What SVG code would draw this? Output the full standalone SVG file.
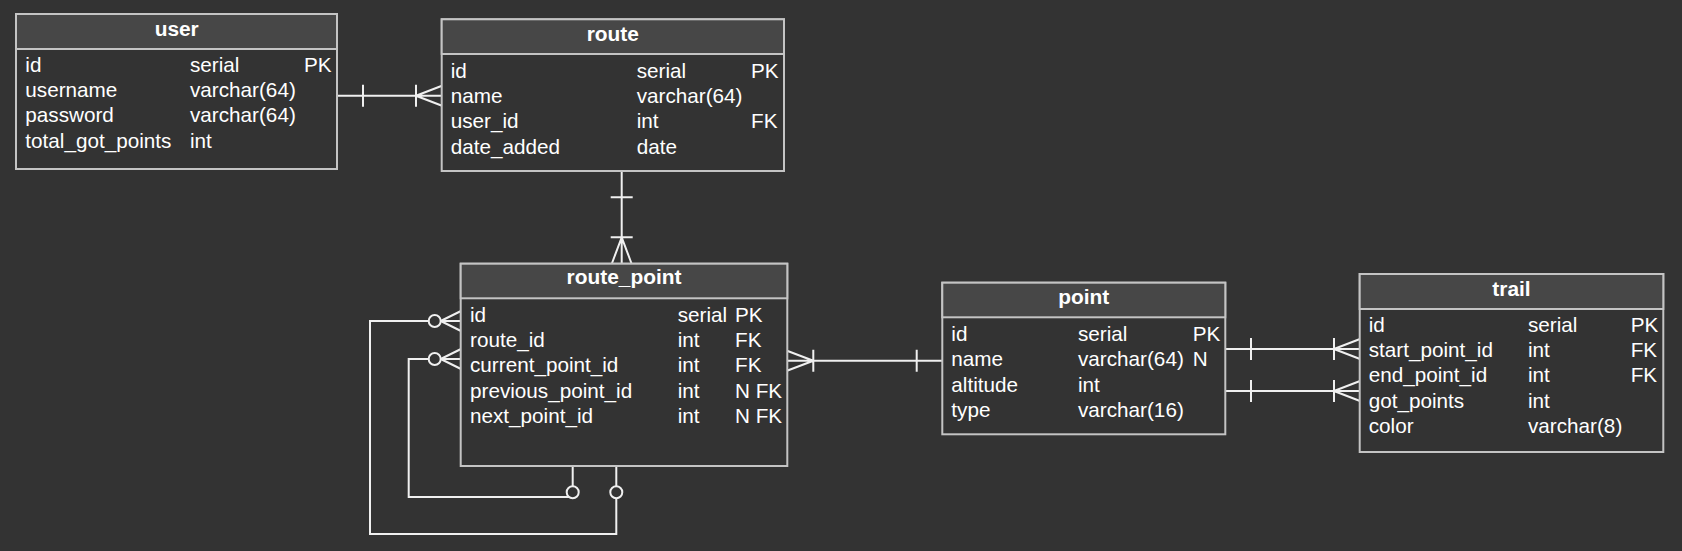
<svg xmlns="http://www.w3.org/2000/svg" width="1682" height="551" viewBox="0 0 1682 551">
<style>
.bg{fill:#333333}
.box{fill:#333333;stroke:#c4c4c4;stroke-width:2}
.hdr{fill:#474747;stroke:#c4c4c4;stroke-width:2}
.t{font-family:"Liberation Sans",Arial,sans-serif;font-size:20.7px;fill:#ffffff}
.h{font-family:"Liberation Sans",Arial,sans-serif;font-size:20.9px;font-weight:bold;fill:#ffffff;text-anchor:middle}
.c{fill:none;stroke:#f0f0f0;stroke-width:2}
.o{fill:#333333;stroke:#f0f0f0;stroke-width:2}
</style>
<rect class="bg" x="0" y="0" width="1682" height="551"/>
<g id="connectors">
  <!-- user - route -->
  <path class="c" d="M337 95.7H442M363 84.7V106.7M416 84.7V106.7M416 95.7L442 85.7M416 95.7L442 105.7"/>
  <!-- route - route_point -->
  <path class="c" d="M621.7 171V264M610.7 197.3H632.7M610.7 237.3H632.7M621.7 237.3L611.7 264M621.7 237.3L631.7 264"/>
  <!-- route_point - point -->
  <path class="c" d="M787 360.7H942M813.3 349.7V371.7M916.7 349.7V371.7M813.3 360.7L787 350.7M813.3 360.7L787 370.7"/>
  <!-- point - trail -->
  <path class="c" d="M1225 349H1360M1251 338V360M1334 338V360M1334 349L1360 339M1334 349L1360 359"/>
  <path class="c" d="M1225 391H1360M1251 380V402M1334 380V402M1334 391L1360 381M1334 391L1360 401"/>
  <!-- self loops -->
  <path class="c" d="M616.3 466V534H370V321H461M440.7 321L461 311M440.7 321L461 331"/>
  <circle class="o" cx="434.7" cy="321" r="6"/>
  <circle class="o" cx="616.3" cy="492.3" r="6"/>
  <path class="c" d="M572.7 466V497H408.7V359H461M440.7 359L461 349M440.7 359L461 369"/>
  <circle class="o" cx="434.7" cy="359" r="6"/>
  <circle class="o" cx="572.7" cy="492.3" r="6"/>
</g>
<g id="user">
  <rect class="box" x="16" y="14" width="321" height="155"/>
  <rect class="hdr" x="16" y="14" width="321" height="35"/>
  <text class="h" x="176.7" y="35.7">user</text>
  <text class="t" x="25.3" y="71.7">id</text><text class="t" x="190" y="71.7">serial</text><text class="t" x="304" y="71.7">PK</text>
  <text class="t" x="25.3" y="97">username</text><text class="t" x="190" y="97">varchar(64)</text>
  <text class="t" x="25.3" y="122.3">password</text><text class="t" x="190" y="122.3">varchar(64)</text>
  <text class="t" x="25.3" y="147.7">total_got_points</text><text class="t" x="190" y="147.7">int</text>
</g>
<g id="route">
  <rect class="box" x="441.7" y="19.3" width="342.3" height="151.7"/>
  <rect class="hdr" x="441.7" y="19.3" width="342.3" height="34.7"/>
  <text class="h" x="612.8" y="40.7">route</text>
  <text class="t" x="450.7" y="77.7">id</text><text class="t" x="636.7" y="77.7">serial</text><text class="t" x="751" y="77.7">PK</text>
  <text class="t" x="450.7" y="103">name</text><text class="t" x="636.7" y="103">varchar(64)</text>
  <text class="t" x="450.7" y="128.3">user_id</text><text class="t" x="636.7" y="128.3">int</text><text class="t" x="751" y="128.3">FK</text>
  <text class="t" x="450.7" y="153.7">date_added</text><text class="t" x="636.7" y="153.7">date</text>
</g>
<g id="route_point">
  <rect class="box" x="460.7" y="263.7" width="326.6" height="202.3"/>
  <rect class="hdr" x="460.7" y="263.7" width="326.6" height="34.6"/>
  <text class="h" x="624" y="284.3">route_point</text>
  <text class="t" x="470" y="321.7">id</text><text class="t" x="677.7" y="321.7">serial</text><text class="t" x="735" y="321.7">PK</text>
  <text class="t" x="470" y="347">route_id</text><text class="t" x="677.7" y="347">int</text><text class="t" x="735" y="347">FK</text>
  <text class="t" x="470" y="372.3">current_point_id</text><text class="t" x="677.7" y="372.3">int</text><text class="t" x="735" y="372.3">FK</text>
  <text class="t" x="470" y="397.7">previous_point_id</text><text class="t" x="677.7" y="397.7">int</text><text class="t" x="735" y="397.7">N FK</text>
  <text class="t" x="470" y="423">next_point_id</text><text class="t" x="677.7" y="423">int</text><text class="t" x="735" y="423">N FK</text>
</g>
<g id="point">
  <rect class="box" x="942.3" y="282.7" width="283" height="151.6"/>
  <rect class="hdr" x="942.3" y="282.7" width="283" height="34.6"/>
  <text class="h" x="1083.8" y="304.3">point</text>
  <text class="t" x="951.3" y="341">id</text><text class="t" x="1078" y="341">serial</text><text class="t" x="1192.7" y="341">PK</text>
  <text class="t" x="951.3" y="366.3">name</text><text class="t" x="1078" y="366.3">varchar(64)</text><text class="t" x="1192.7" y="366.3">N</text>
  <text class="t" x="951.3" y="391.7">altitude</text><text class="t" x="1078" y="391.7">int</text>
  <text class="t" x="951.3" y="417">type</text><text class="t" x="1078" y="417">varchar(16)</text>
</g>
<g id="trail">
  <rect class="box" x="1359.7" y="274" width="303.6" height="178"/>
  <rect class="hdr" x="1359.7" y="274" width="303.6" height="35"/>
  <text class="h" x="1511.5" y="295.7">trail</text>
  <text class="t" x="1368.7" y="331.7">id</text><text class="t" x="1528" y="331.7">serial</text><text class="t" x="1630.7" y="331.7">PK</text>
  <text class="t" x="1368.7" y="357">start_point_id</text><text class="t" x="1528" y="357">int</text><text class="t" x="1630.7" y="357">FK</text>
  <text class="t" x="1368.7" y="382.3">end_point_id</text><text class="t" x="1528" y="382.3">int</text><text class="t" x="1630.7" y="382.3">FK</text>
  <text class="t" x="1368.7" y="407.7">got_points</text><text class="t" x="1528" y="407.7">int</text>
  <text class="t" x="1368.7" y="433">color</text><text class="t" x="1528" y="433">varchar(8)</text>
</g>
</svg>
